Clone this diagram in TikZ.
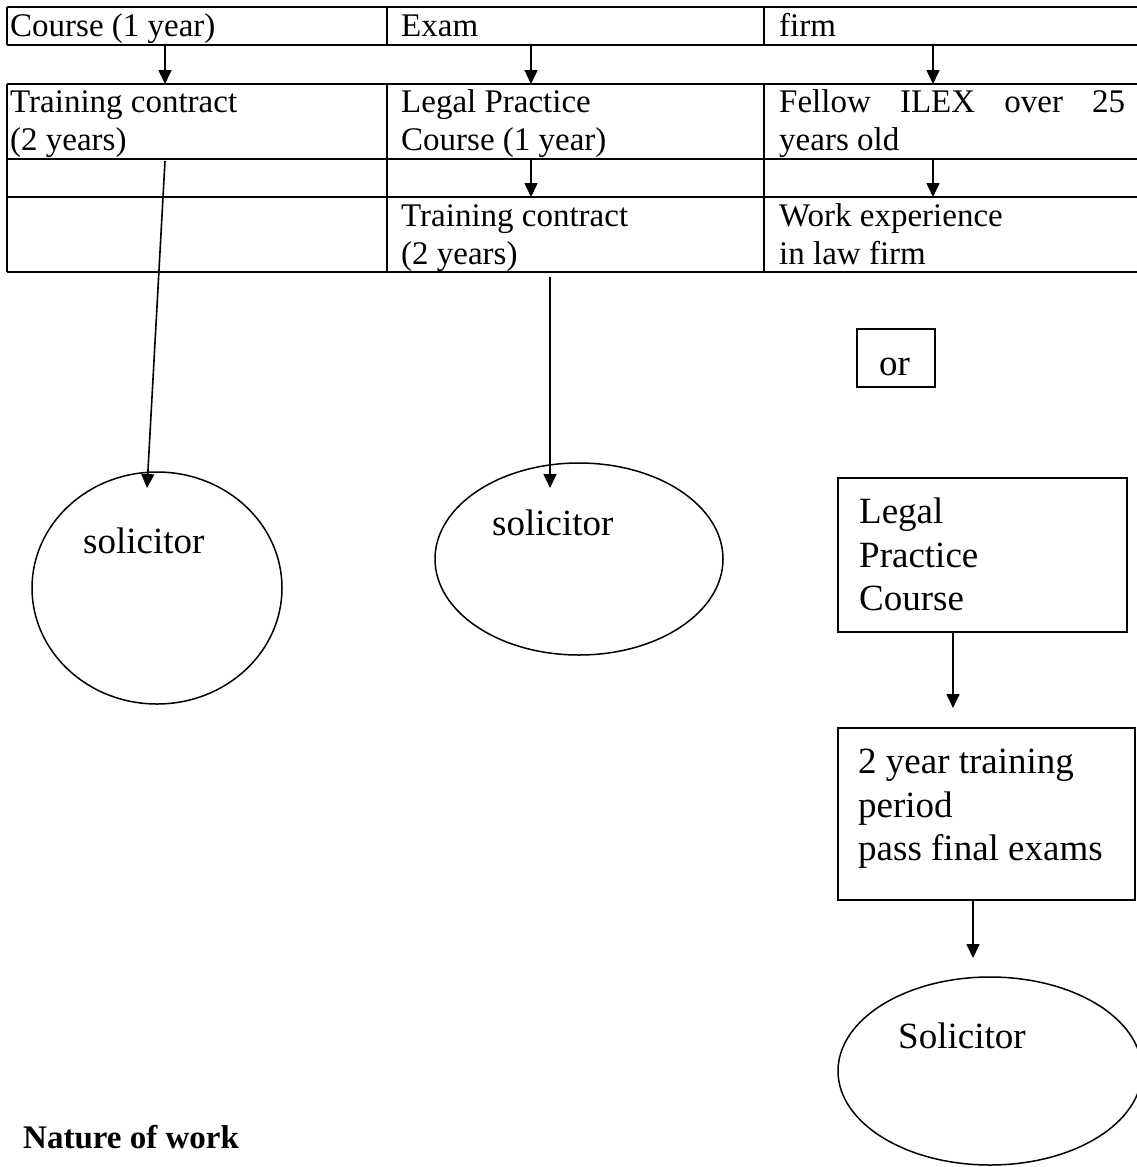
\documentclass[tikz,border=0pt]{standalone}
\usepackage{fontspec}
\setmainfont{Liberation Serif}
\usetikzlibrary{arrows.meta,shapes.geometric}
\begin{document}
\begin{tikzpicture}[x=1pt,y=-1pt,
  tbl/.style={line width=2pt},
  arr/.style={line width=1.6pt,-{Triangle[width=13pt,length=14pt]}},
  celltxt/.style={anchor=base west,inner sep=0pt,font=\fontsize{33}{38}\selectfont},
  bigtxt/.style={anchor=base west,inner sep=0pt,font=\fontsize{37}{44}\selectfont},
  oval/.style={draw,ellipse,line width=1.5pt,inner sep=0pt},
  boxn/.style={draw,rectangle,line width=1.5pt,inner sep=0pt}]
\useasboundingbox (0,0) rectangle (1137,1167);
\clip (0,0) rectangle (1137,1167);
% top table (one row)
\draw[tbl] (7,7) -- (1140,7) (7,45) -- (1140,45);
\draw[tbl] (7,7) -- (7,45) (387,7) -- (387,45) (764,7) -- (764,45);
% second table
\draw[tbl] (7,84) -- (1140,84) (7,159) -- (1140,159) (7,197) -- (1140,197) (7,272) -- (1140,272);
\draw[tbl] (7,84) -- (7,272) (387,84) -- (387,272) (764,84) -- (764,272);
% cell texts
\node[celltxt] (t11) at (10,36) {Course (1 year)};
\node[celltxt] (t12) at (401,36) {Exam};
\node[celltxt] (t13) at (779,36) {firm};
\node[celltxt] (t21a) at (10,112) {Training contract};
\node[celltxt] (t21b) at (10,150) {(2 years)};
\node[celltxt] (t22a) at (401,112) {Legal Practice};
\node[celltxt] (t22b) at (401,150) {Course (1 year)};
\node[celltxt] (t23a) at (779,112) {\makebox[346pt][s]{Fellow ILEX over 25}};
\node[celltxt] (t23b) at (779,150) {years old};
\node[celltxt] (t42a) at (401,226) {Training contract};
\node[celltxt] (t42b) at (401,264) {(2 years)};
\node[celltxt] (t43a) at (779,226) {Work experience};
\node[celltxt] (t43b) at (779,264) {in law firm};
% arrow coordinates in table
\coordinate (a1s) at (165,45);  \coordinate (a1e) at (165,84);
\coordinate (a2s) at (531,45);  \coordinate (a2e) at (531,84);
\coordinate (a3s) at (933,45);  \coordinate (a3e) at (933,84);
\coordinate (a4s) at (531,159); \coordinate (a4e) at (531,197);
\coordinate (a5s) at (933,159); \coordinate (a5e) at (933,197);
\draw[arr] (a1s) -- (a1e);
\draw[arr] (a2s) -- (a2e);
\draw[arr] (a3s) -- (a3e);
\draw[arr] (a4s) -- (a4e);
\draw[arr] (a5s) -- (a5e);
% ellipses
\node[oval,minimum width=250pt,minimum height=232pt] (sol1) at (157,588) {};
\node[bigtxt] (sol1t) at (83,553) {solicitor};
\node[oval,minimum width=288pt,minimum height=192pt] (sol2) at (579,559) {};
\node[bigtxt] (sol2t) at (492,535) {solicitor};
\coordinate (l1s) at (165,161); \coordinate (l1e) at (147,488);
\coordinate (l2s) at (550,277); \coordinate (l2e) at (550,488);
\draw[arr] (l1s) -- (l1e);
\draw[arr] (l2s) -- (l2e);
% right column
\node[boxn,minimum width=78pt,minimum height=58pt] (orbox) at (896,358) {};
\node[bigtxt] (ort) at (879,375) {or};
\node[boxn,minimum width=289pt,minimum height=154pt] (lpc) at (982.5,555) {};
\node[bigtxt] (lpc1) at (859,523) {Legal};
\node[bigtxt] (lpc2) at (859,567) {Practice};
\node[bigtxt] (lpc3) at (859,610) {Course};
\node[boxn,minimum width=297pt,minimum height=172pt] (trn) at (986.5,814) {};
\node[bigtxt] (trn1) at (858,773) {2 year training};
\node[bigtxt] (trn2) at (858,817) {period};
\node[bigtxt] (trn3) at (858,860) {pass final exams};
\node[oval,minimum width=304pt,minimum height=188pt] (sol3) at (990,1071) {};
\node[bigtxt] (sol3t) at (898,1048) {Solicitor};
\coordinate (r1s) at (953,632); \coordinate (r1e) at (953,708);
\coordinate (r2s) at (973,900); \coordinate (r2e) at (973,958);
\draw[arr] (r1s) -- (r1e);
\draw[arr] (r2s) -- (r2e);
% heading
\node[anchor=base west,inner sep=0pt,font=\fontsize{33}{38}\selectfont\bfseries] (now) at (23,1148) {Nature of work};
\end{tikzpicture}
\end{document}
